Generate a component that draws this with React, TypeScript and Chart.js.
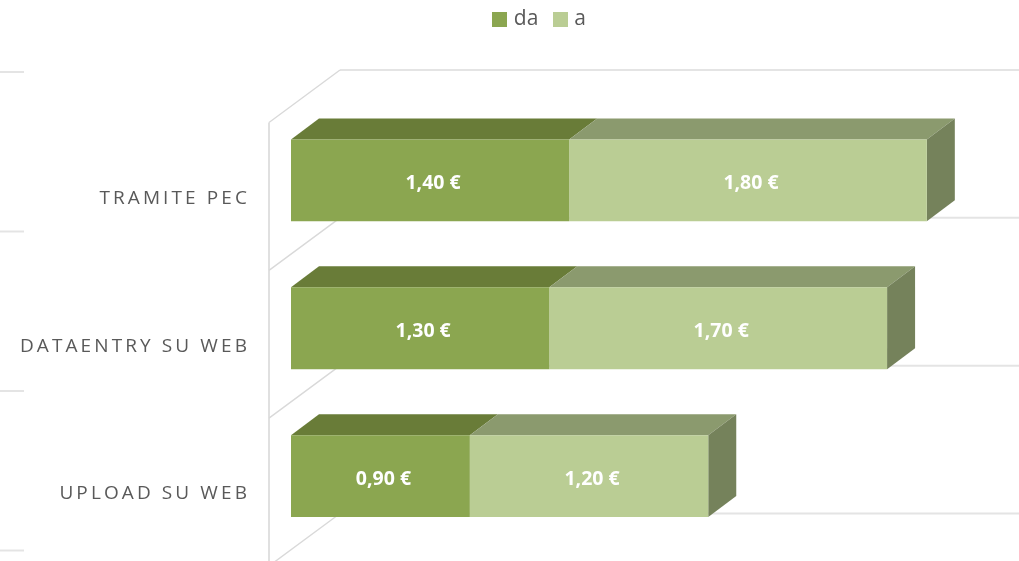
import React, { useEffect, useRef } from "react";
import { Chart, registerables } from "chart.js";

Chart.register(...registerables);

const categories = ["TRAMITE PEC", "DATAENTRY SU WEB", "UPLOAD SU WEB"];
const seriesNames = ["da", "a"];
const daValues = [1.4, 1.3, 0.9];
const aValues = [1.8, 1.7, 1.2];
const axisMax = 3.6;

const FONT = '"Open Sans", sans-serif';
const DEPTH_X = 28;
const DEPTH_Y = 21;
const GRID = "#E4E4E4";
const WALL = "#D9D9D9";
const FRONT_COLORS = ["#8BA650", "#BACD94"];
const TOP_COLORS = ["#697C38", "#8B9A6E"];
const SIDE_COLOR = "#75825B";
const euro = (v: number) => v.toFixed(2).replace(".", ",") + " €";

function poly(ctx: CanvasRenderingContext2D, pts: number[][], fill: string) {
  ctx.beginPath();
  pts.forEach(([x, y], i) => (i ? ctx.lineTo(x, y) : ctx.moveTo(x, y)));
  ctx.closePath();
  ctx.fillStyle = fill;
  ctx.fill();
}

function swatch(color: string) {
  const c = document.createElement("canvas");
  c.width = 15;
  c.height = 15;
  const g = c.getContext("2d") as CanvasRenderingContext2D;
  g.fillStyle = color;
  g.fillRect(0, 0, 15, 15);
  return c;
}

const box3d = {
  id: "box3d",
  afterLayout(chart: any) {
    chart.legend.left += 38;
    chart.legend.right += 38;
    chart.legend.top -= 9.5;
  },
  beforeDatasetsDraw(chart: any) {
    const ctx: CanvasRenderingContext2D = chart.ctx;
    const x0 = chart.scales.x.getPixelForValue(0);
    const yScale = chart.scales.y;
    const wallX = x0 - 22;
    const backX = x0 + 49;
    ctx.save();
    ctx.lineCap = "butt";
    for (let i = 0; i <= categories.length; i++) {
      const edge = yScale.getPixelForValue(i - 0.5);
      ctx.strokeStyle = GRID;
      ctx.lineWidth = 2;
      ctx.beginPath();
      ctx.moveTo(backX, edge - 36.5);
      ctx.lineTo(chart.width, edge - 36.5);
      ctx.stroke();
      ctx.strokeStyle = WALL;
      ctx.lineWidth = 1.4;
      ctx.beginPath();
      ctx.moveTo(wallX, edge + 16);
      ctx.lineTo(backX, edge - 36.5);
      ctx.stroke();
    }
    ctx.strokeStyle = WALL;
    ctx.lineWidth = 1.6;
    ctx.beginPath();
    ctx.moveTo(wallX, yScale.getPixelForValue(-0.5) + 16);
    ctx.lineTo(wallX, chart.height);
    ctx.stroke();
    ctx.strokeStyle = GRID;
    ctx.lineWidth = 2;
    for (let i = 0; i <= categories.length; i++) {
      const y = 72 + i * 159.5;
      ctx.beginPath();
      ctx.moveTo(0, y);
      ctx.lineTo(24, y);
      ctx.stroke();
    }
    chart.data.datasets.forEach((_: any, d: number) => {
      chart.getDatasetMeta(d).data.forEach((bar: any) => {
        const top = bar.y - bar.height / 2;
        const bottom = bar.y + bar.height / 2;
        poly(ctx, [[bar.base, top], [bar.x, top], [bar.x + DEPTH_X, top - DEPTH_Y], [bar.base + DEPTH_X, top - DEPTH_Y]], TOP_COLORS[d]);
        if (d === chart.data.datasets.length - 1) {
          poly(ctx, [[bar.x, top], [bar.x + DEPTH_X, top - DEPTH_Y], [bar.x + DEPTH_X, bottom - DEPTH_Y], [bar.x, bottom]], SIDE_COLOR);
        }
      });
    });
    ctx.restore();
  },
  afterDatasetsDraw(chart: any) {
    const ctx: any = chart.ctx;
    ctx.save();
    ctx.font = `bold 19.5px ${FONT}`;
    ctx.fillStyle = "#FFFFFF";
    ctx.textAlign = "center";
    ctx.textBaseline = "middle";
    chart.data.datasets.forEach((ds: any, d: number) => {
      chart.getDatasetMeta(d).data.forEach((bar: any, i: number) => {
        ctx.fillText(euro(ds.data[i]), (bar.x + bar.base) / 2 + 3, bar.y + 3);
      });
    });
    ctx.restore();
    ctx.letterSpacing = "3.1px";
  },
  afterDraw(chart: any) {
    chart.ctx.letterSpacing = "0px";
  },
};

export default function App() {
  const ref = useRef<HTMLCanvasElement>(null);
  useEffect(() => {
    const chart = new Chart(ref.current as HTMLCanvasElement, {
      type: "bar",
      data: {
        labels: categories,
        datasets: [
          { label: seriesNames[0], data: daValues, backgroundColor: FRONT_COLORS[0], stack: "s" },
          { label: seriesNames[1], data: aValues, backgroundColor: FRONT_COLORS[1], stack: "s" },
        ],
      },
      options: {
        indexAxis: "y",
        responsive: false,
        animation: false,
        devicePixelRatio: 1,
        layout: { padding: { top: 0, left: 0, right: 12.7, bottom: 11 } },
        datasets: { bar: { barPercentage: 1, categoryPercentage: 82 / 148 } },
        scales: {
          x: {
            position: "top",
            min: 0,
            max: axisMax,
            stacked: true,
            grid: { display: false },
            border: { display: false },
            ticks: { display: false },
            afterFit: (s: any) => { s.height = 57; },
          },
          y: {
            stacked: true,
            grid: { display: false, drawTicks: false },
            border: { display: false },
            afterFit: (s: any) => {
              s.width = 291;
              s.paddingTop = 0;
              s.paddingBottom = 0;
            },
            ticks: {
              z: 1,
              padding: 41,
              labelOffset: 18,
              color: "#595959",
              font: { family: FONT, size: 19 },
            },
          },
        },
        plugins: {
          tooltip: { enabled: false },
          legend: {
            position: "top",
            labels: {
              usePointStyle: true,
              pointStyleWidth: 7,
              boxHeight: 15,
              padding: 18.5,
              color: "#595959",
              font: { family: FONT, size: 21 },
              generateLabels: (c: any) =>
                Chart.defaults.plugins.legend.labels
                  .generateLabels(c)
                  .map((item: any, i: number) => ({ ...item, pointStyle: swatch(FRONT_COLORS[i]) })),
            },
          },
        },
      } as any,
      plugins: [box3d],
    });
    return () => chart.destroy();
  }, []);
  return (
    <canvas
      ref={ref}
      width={1019}
      height={561}
      style={{ position: "absolute", left: 0, top: 0, display: "block" }}
    />
  );
}
